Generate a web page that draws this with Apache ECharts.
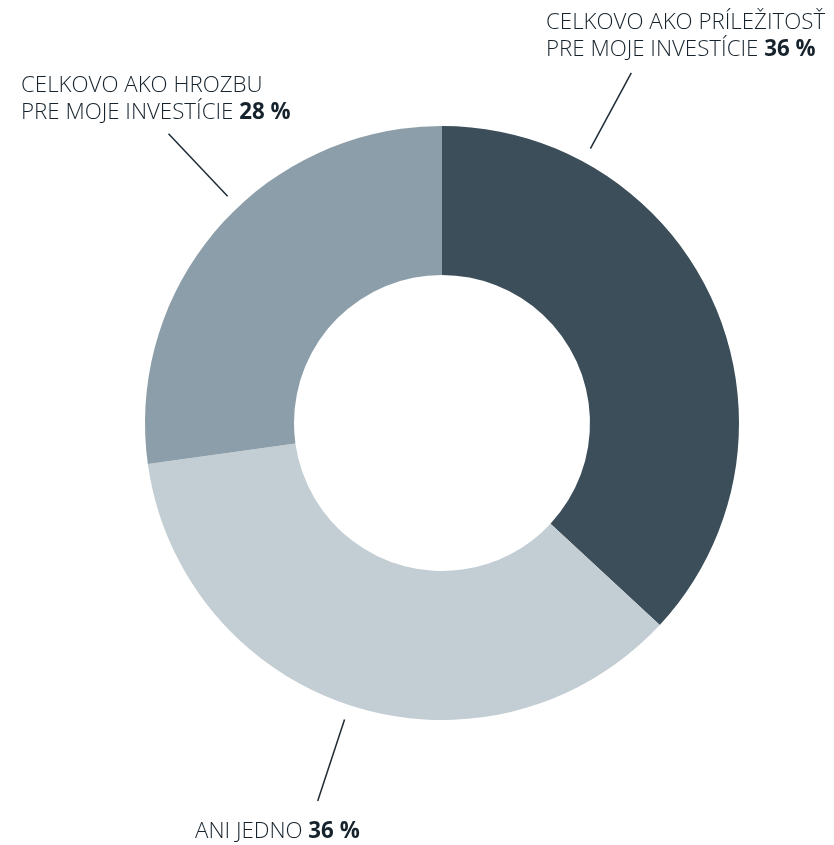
<!DOCTYPE html>
<html><head><meta charset="utf-8">
<script src="https://cdn.jsdelivr.net/npm/echarts@6/dist/echarts.min.js"></script>
<style>html,body{margin:0;padding:0;background:#fff}#c{width:834px;height:845px}</style>
</head><body><div id="c"></div>
<script>
const labelsLine1 = ['CELKOVO AKO PRÍLEŽITOSŤ', '', 'CELKOVO AKO HROZBU'];
const labelsLine2 = ['PRE MOJE INVESTÍCIE ', 'ANI JEDNO ', 'PRE MOJE INVESTÍCIE '];
const labelPct = ['36 %', '36 %', '28 %'];
// slice sizes as drawn in the picture
const values = [36.9, 35.9, 27.2];
const colors = ['#3c4e5a', '#c3ced4', '#8c9ea9'];
// label anchor (x, y of top-left) and leader-line angle (deg clockwise from top)
const labelPos = [[546, 9], [195, 818], [21, 72]];
const lineAngle = [28.4, 198.2, 316.6];

const cx = 442, cy = 423, rIn = 148, rOut = 297;
const chart = echarts.init(document.getElementById('c'));
const data = values.map((v, i) => ({
  value: v,
  itemStyle: { color: colors[i] },
  label: {
    formatter: (labelsLine1[i] ? '{a|' + labelsLine1[i] + '}\n' : '') + '{a|' + labelsLine2[i] + '}{b|' + labelPct[i] + '}'
  }
}));
chart.setOption({
  animation: false,
  series: [{
    type: 'pie',
    center: [cx, cy],
    radius: [rIn, rOut],
    startAngle: 90,
    clockwise: true,
    data: data,
    label: {
      show: true,
      position: 'outside',
      align: 'left',
      overflow: 'none',
      width: 400,
      rich: {
        a: { fontFamily: 'Open Sans', fontWeight: 300, fontSize: 22.3, color: '#16232d', lineHeight: 27 },
        b: { fontFamily: 'Open Sans', fontWeight: 'bold', fontSize: 22.3, color: '#16232d', lineHeight: 27 }
      }
    },
    labelLine: { show: true, length: 20, length2: 0, lineStyle: { color: '#1e2b35', width: 1.5 } },
    labelLayout: function (p) {
      const i = p.dataIndex;
      const a = lineAngle[i] * Math.PI / 180;
      const r1 = 312, r2 = 398;
      return {
        x: labelPos[i][0], y: labelPos[i][1], align: 'left', verticalAlign: 'top',
        labelLinePoints: [
          [cx + r1 * Math.sin(a), cy - r1 * Math.cos(a)],
          [cx + r2 * Math.sin(a), cy - r2 * Math.cos(a)],
          [cx + r2 * Math.sin(a), cy - r2 * Math.cos(a)]
        ]
      };
    }
  }]
});
</script></body></html>
